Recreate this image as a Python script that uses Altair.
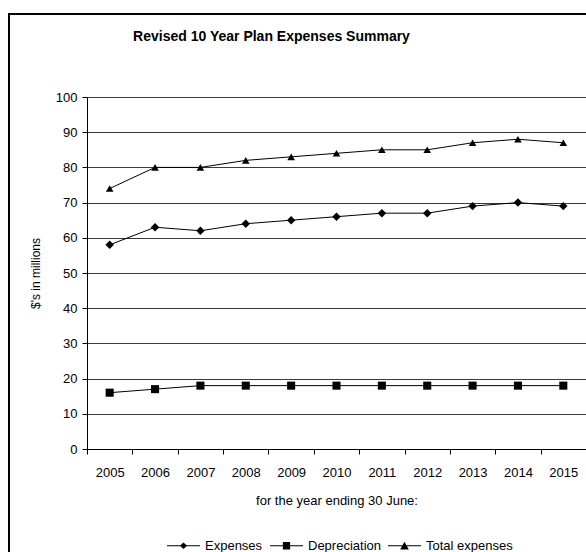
import altair as alt
import pandas as pd

# Financial years and the three expense series ($ millions)
years = ["2005", "2006", "2007", "2008", "2009", "2010",
         "2011", "2012", "2013", "2014", "2015"]
expenses = [58, 63, 62, 64, 65, 66, 67, 67, 69, 70, 69]
depreciation = [16, 17, 18, 18, 18, 18, 18, 18, 18, 18, 18]
total_expenses = [74, 80, 80, 82, 83, 84, 85, 85, 87, 88, 87]

series_names = ["Expenses", "Depreciation", "Total expenses"]
series_values = [expenses, depreciation, total_expenses]

rows = []
for name, vals in zip(series_names, series_values):
    for yr, v in zip(years, vals):
        rows.append({"year": yr, "value": v, "series": name})
df = pd.DataFrame(rows)

FONT = "Liberation Sans, Arial, sans-serif"
W, H = 499, 352

x_enc = alt.X(
    "year:N",
    sort=years,
    scale=alt.Scale(type="band", paddingInner=0, paddingOuter=0),
    axis=alt.Axis(
        title="for the year ending 30 June:",
        labelAngle=0,
        tickBand="extent",
        tickSize=5,
        labelPadding=12,
        titlePadding=15,
        grid=False,
        domainColor="#000000",
        tickColor="#000000",
        labelFont=FONT,
        labelFontSize=13,
        titleFont=FONT,
        titleFontSize=13,
        titleFontWeight="normal",
        labelColor="#000000",
        titleColor="#000000",
    ),
)
y_enc = alt.Y(
    "value:Q",
    scale=alt.Scale(domain=[0, 100], nice=False, zero=True),
    axis=alt.Axis(
        title="$'s in millions",
        values=list(range(0, 101, 10)),
        tickSize=5,
        labelPadding=5,
        titlePadding=13,
        grid=True,
        gridColor="#3a3a3a",
        gridWidth=1,
        domainColor="#000000",
        tickColor="#000000",
        labelFont=FONT,
        labelFontSize=13,
        titleFont=FONT,
        titleFontSize=12,
        titleFontWeight="normal",
        labelColor="#000000",
        titleColor="#000000",
    ),
)

base = alt.Chart(df)

lines = base.mark_line(color="#000000", strokeWidth=1).encode(
    x=x_enc, y=y_enc, detail="series:N"
)

marker_shapes = ["diamond", "square", "triangle-up"]
points = base.mark_point(filled=True, color="#000000", opacity=1).encode(
    x=x_enc,
    y=y_enc,
    shape=alt.Shape(
        "series:N",
        scale=alt.Scale(domain=series_names, range=marker_shapes),
        legend=None,
    ),
    size=alt.Size(
        "series:N",
        scale=alt.Scale(domain=series_names, range=[72, 58, 95]),
        legend=None,
    ),
)

# Legend symbols: a thin bar (the line) with the series marker in its middle
legend_shapes = [
    "M-1,-0.03H1V0.03H-1ZM-0.22,0L0,-0.2L0.22,0L0,0.2Z",
    "M-1,-0.03H1V0.03H-1ZM-0.22,-0.22H0.22V0.22H-0.22Z",
    "M-1,-0.03H1V0.03H-1ZM0,-0.24L0.26,0.22L-0.26,0.22Z",
]
legend_layer = base.mark_point(
    filled=True, fill="#000000", opacity=0
).encode(
    x=x_enc,
    y=y_enc,
    shape=alt.Shape(
        "series:N",
        scale=alt.Scale(domain=series_names, range=legend_shapes),
        legend=alt.Legend(
            title=None,
            orient="none",
            direction="horizontal",
            legendX=79,
            legendY=431,
            symbolSize=1089,
            symbolOpacity=1,
            symbolFillColor="#000000",
            labelOffset=4,
            columnPadding=4,
            labelFont=FONT,
            labelFontSize=13,
            labelColor="#000000",
        ),
    ),
)

# Outer chart frame (left and top edges)
frame_left = alt.Chart().mark_rule(color="#000000", strokeWidth=2).encode(
    x=alt.value(-78), y=alt.value(-83), y2=alt.value(H + 200)
)
frame_top = alt.Chart().mark_rule(color="#000000", strokeWidth=2).encode(
    x=alt.value(-79), x2=alt.value(W + 50), y=alt.value(-83)
)

chart = (
    alt.layer(lines, points, legend_layer, frame_left, frame_top)
    .resolve_scale(shape="independent", size="independent")
    .properties(
        width=W,
        height=H,
        title=alt.TitleParams(
            "Revised 10 Year Plan Expenses Summary",
            font=FONT,
            fontSize=14,
            fontWeight="bold",
            color="#000000",
            anchor="middle",
            frame="group",
            baseline="alphabetic",
            dx=-65,
            offset=-42,
        ),
        padding={"left": 87, "top": 97, "right": 0, "bottom": 103},
        autosize=alt.AutoSizeParams(type="none"),
    )
    .configure_view(stroke=None)
    .configure(background="#ffffff")
)

chart.save("out.html", embed_options={"renderer": "svg", "actions": False})
